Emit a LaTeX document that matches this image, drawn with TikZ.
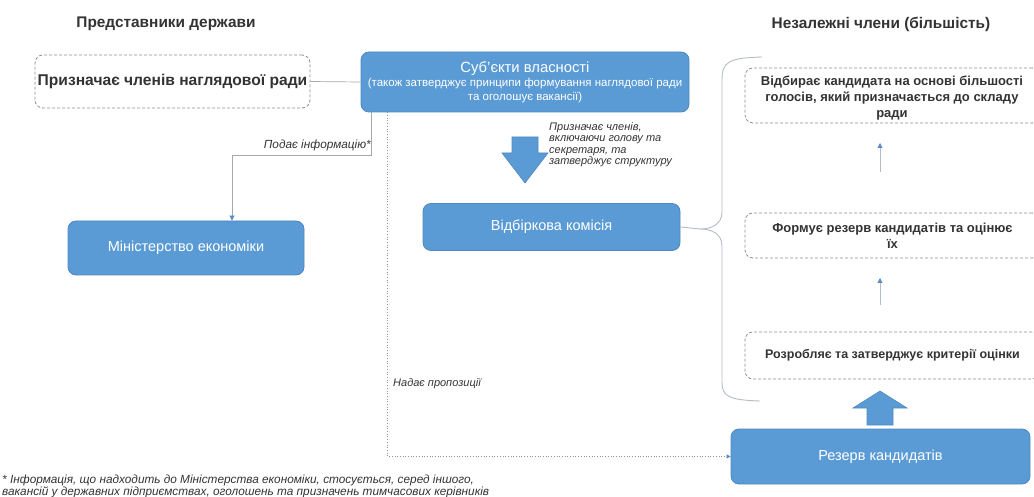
\documentclass[tikz,border=0pt]{standalone}
\usepackage{fontspec}
\setmainfont{Liberation Sans}
\usetikzlibrary{arrows.meta}
\definecolor{bfill}{HTML}{5B9BD5}
\definecolor{bdraw}{HTML}{4F88C0}
\definecolor{dgray}{HTML}{8F8F8F}
\definecolor{tgray}{HTML}{333333}
\definecolor{lgray}{HTML}{B4BCC8}
\definecolor{cgray}{HTML}{A8A8A8}
\definecolor{tipblue}{HTML}{5A8BC6}
\begin{document}
\begin{tikzpicture}[x=1pt,y=-1pt,
  bluebox/.style={draw=bdraw, line width=0.8pt, fill=bfill, rounded corners=8pt, text=white, align=center, inner sep=0pt},
  dbox/.style={draw=dgray, dash pattern=on 3pt off 2pt, line width=0.8pt, rounded corners=8pt, inner sep=0pt, text=tgray, align=center},
  rfont/.style={font=\bfseries\fontsize{13}{16}\selectfont},
  heading/.style={text=tgray, font=\bfseries\fontsize{15.4}{18}\selectfont, inner sep=0pt},
  lab/.style={text=tgray, font=\itshape\fontsize{11}{11.5}\selectfont, inner sep=0pt},
  conn/.style={draw=cgray, line width=0.7pt},
  bracecol/.style={draw=lgray, line width=0.9pt},
  dotline/.style={draw=dgray, dotted, line width=0.7pt},
  smallarr/.style={draw=lgray, line width=0.8pt, -{Triangle[width=5pt,length=5pt,color=tipblue]}},
  blockarr/.style={fill=bfill, draw=bdraw, line width=0.6pt}
]
\useasboundingbox (0,0) rectangle (1034,497);

% headings
\node[heading] (h1) at (166,24) {Представники держави};
\node[heading] (h2) at (881,24) {Незалежні члени (більшість)};

% left dashed box
\node[dbox, minimum width=275pt, minimum height=53pt, font=\bfseries\fontsize{15.6}{18}\selectfont] (appoint) at (172.5,81.5) {Призначає членів наглядової ради};

% blue boxes
\node[bluebox, minimum width=328pt, minimum height=60pt, font=\fontsize{11.5}{14}\selectfont] (owners) at (525,82)
  {{\fontsize{14.8}{16}\selectfont Суб'єкти власності}\\(також затверджує принципи формування наглядової ради\\та оголошує вакансії)};
\node[bluebox, minimum width=236pt, minimum height=54pt, font=\fontsize{14.5}{16}\selectfont] (ministry) at (186,248) {Міністерство економіки};
\node[bluebox, minimum width=257pt, minimum height=47pt, font=\fontsize{14.5}{16}\selectfont] (commission) at (551.5,227) {Відбіркова комісія};
\node[bluebox, minimum width=299pt, minimum height=55pt, font=\fontsize{14.5}{16}\selectfont] (reserve) at (880.5,456.5) {Резерв кандидатів};

% right dashed boxes
\node[dbox, rfont, minimum width=295pt, minimum height=55pt] (r1) at (892.5,95.5) {};
\node[text=tgray, rfont, align=center, inner sep=0pt] (r1t) at (892,98) {Відбирає кандидата на основі більшості\\голосів, який призначається до складу\\ради};
\node[dbox, rfont, minimum width=295pt, minimum height=45pt] (r2) at (892.5,235.5) {Формує резерв кандидатів та оцінює\\їх};
\node[dbox, font=\bfseries\fontsize{12.5}{15}\selectfont, minimum width=295pt, minimum height=47pt] (r3) at (892.5,355.5) {Розробляє та затверджує критерії оцінки};

% labels
\node[lab, anchor=east, font=\itshape\fontsize{11.8}{13}\selectfont] (l1) at (371,145) {Подає інформацію*};
\node[lab, anchor=north west, align=left] (l2) at (549,122) {Призначає членів,\\включаючи голову та\\секретаря, та\\затверджує структуру};
\node[lab, anchor=west] (l3) at (393,384) {Надає пропозиції};
\node[lab, anchor=north west, align=left, font=\itshape\fontsize{11.8}{12}\selectfont] (fn) at (2,474.5)
  {* Інформація, що надходить до Міністерства економіки, стосується, серед іншого,\\вакансій у державних підприємствах, оголошень та призначень тимчасових керівників};

% connectors
\draw[conn] (appoint.east) -- (owners.west);
\coordinate (bendA) at (232,155);
\draw[conn, -{Triangle[width=5pt,length=5pt,color=tipblue]}] ([xshift=11pt]owners.south west) |- (bendA) -- ([xshift=46pt]ministry.north);
\draw[dotline, -{Triangle[width=4pt,length=4pt,color=tipblue]}] ([xshift=27pt]owners.south west) |- (reserve.west);

% brace
\coordinate (tip) at (700,229);
\draw[bracecol] (762,57) .. controls (728,58) and (722,62) .. (722,80) -- (722,212)
  .. controls (722,224) and (712,229) .. (tip)
  .. controls (712,229) and (722,234) .. (722,246) -- (722,382)
  .. controls (722,396) and (728,400) .. (760,401);
\draw[bracecol] (commission.east) -- (tip);

% small arrows
\coordinate (s1) at (880,172); \coordinate (e1) at (880,143);
\coordinate (s2) at (880,305); \coordinate (e2) at (880,278);
\draw[smallarr] (s1) -- (e1);
\draw[smallarr] (s2) -- (e2);

% block arrows
\path[blockarr] (512,137) -- (538,137) -- (538,153) -- (548,153) -- (525,183) -- (502,153) -- (512,153) -- cycle;
\path[blockarr] (867,425) -- (893,425) -- (893,408) -- (907,408) -- (880,391) -- (853,408) -- (867,408) -- cycle;
\end{tikzpicture}
\end{document}
